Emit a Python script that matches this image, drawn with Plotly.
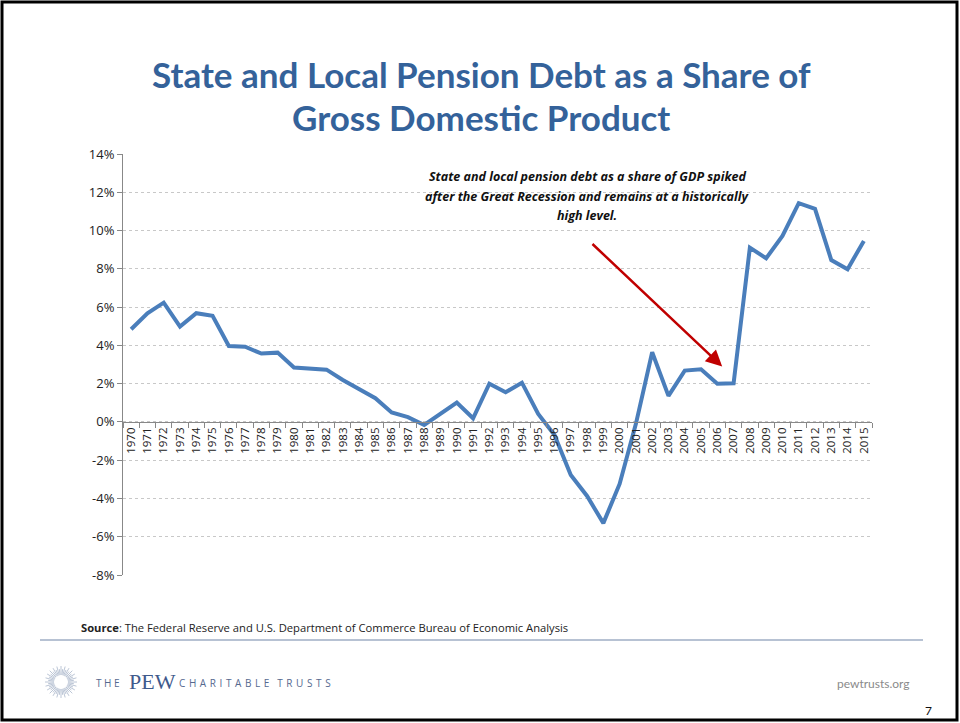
import math
import plotly.graph_objects as go

# ---------------- data ----------------
years = [str(y) for y in range(1970, 2016)]
debt_share = [4.84, 5.68, 6.23, 4.98, 5.68, 5.54, 3.97, 3.93, 3.57, 3.62,
              2.84, 2.77, 2.73, 2.19, 1.71, 1.24, 0.49, 0.25, -0.16, 0.45,
              1.01, 0.19, 2.00, 1.55, 2.05, 0.42, -0.68, -2.77, -3.87, -5.29,
              -3.24, -0.10, 3.64, 1.36, 2.68, 2.75, 2.00, 2.02, 9.11, 8.55,
              9.72, 11.43, 11.13, 8.46, 7.98, 9.46]
y_ticks = [-8, -6, -4, -2, 0, 2, 4, 6, 8, 10, 12, 14]
y_tick_labels = ["-8%", "-6%", "-4%", "-2%", "0%", "2%", "4%", "6%", "8%", "10%", "12%", "14%"]

title_lines = ["State and Local Pension Debt as a Share of", "Gross Domestic Product"]
note_lines = ["State and local pension debt as a share of GDP spiked",
              "after the Great Recession and remains at a historically",
              "high level."]
source_text = "<b>Source</b>: The Federal Reserve and U.S. Department of Commerce Bureau of Economic Analysis"

# ---------------- geometry helpers ----------------
W, H = 960, 723
L, R, T, B = 123, 872, 154, 575


def px(x):
    return (x - L) / (R - L)


def py(y):
    return (B - y) / (B - T)


BLUE_TITLE = "#34629A"
LINE_BLUE = "#4A7EBB"

fig = go.Figure()
fig.add_trace(go.Scatter(
    x=years, y=debt_share, mode="lines",
    line=dict(color=LINE_BLUE, width=4), hoverinfo="x+y", showlegend=False))

zero_pos = (0 - y_ticks[0]) / (y_ticks[-1] - y_ticks[0])

fig.update_layout(
    width=W, height=H,
    margin=dict(l=L, r=W - R, t=T, b=H - B),
    paper_bgcolor="white", plot_bgcolor="white",
    font=dict(family="Open Sans, sans-serif", color="#333333"),
    xaxis=dict(type="category", anchor="free", position=zero_pos,
               showline=True, linecolor="#888888", linewidth=1,
               ticks="outside", tickson="boundaries", ticklen=5, tickcolor="#888888",
               tickangle=-90, tickfont=dict(size=11.5, color="#222222"),
               showgrid=False, zeroline=False, range=[-0.5, len(years) - 0.5]),
    yaxis=dict(range=[y_ticks[0], y_ticks[-1]], tickvals=y_ticks, ticktext=y_tick_labels,
               showline=True, linecolor="#888888", linewidth=1,
               ticks="outside", ticklen=5, tickcolor="#888888",
               tickfont=dict(size=13, color="#222222"),
               showgrid=True, gridcolor="#C8C8C8", griddash="dot", gridwidth=1,
               zeroline=False),
)

annotations = []
# title
for line, yy in zip(title_lines, [74, 117]):
    annotations.append(dict(text="<b>%s</b>" % line, xref="paper", yref="paper",
                            x=px(481), y=py(yy), showarrow=False,
                            xanchor="center", yanchor="middle",
                            font=dict(size=35, color=BLUE_TITLE, family="Lato, sans-serif")))
# note
for line, yy in zip(note_lines, [177, 196, 215]):
    annotations.append(dict(text="<b><i>%s</i></b>" % line, xref="paper", yref="paper",
                            x=px(587), y=py(yy), showarrow=False,
                            xanchor="center", yanchor="middle",
                            font=dict(size=12.5, color="#111111", family="Open Sans, sans-serif")))
# arrow
annotations.append(dict(x=36.3, y=2.89, ax=28.24, ay=9.37, xref="x", yref="y",
                        axref="x", ayref="y", text="", showarrow=True,
                        arrowhead=2, arrowsize=1.3, arrowwidth=2.5, arrowcolor="#C00000"))
# source
annotations.append(dict(text=source_text, xref="paper", yref="paper",
                        x=px(79), y=py(627), showarrow=False, xanchor="left", yanchor="middle",
                        font=dict(size=11.2, color="#222222", family="Open Sans, sans-serif")))
# footer logo text
annotations.append(dict(text=" ".join("THE"), xref="paper", yref="paper",
                        x=px(94), y=py(683), showarrow=False, xanchor="left", yanchor="middle",
                        font=dict(size=10, color="#56698F", family="Open Sans, sans-serif")))
annotations.append(dict(text="PEW", xref="paper", yref="paper",
                        x=px(127), y=py(681), showarrow=False, xanchor="left", yanchor="middle",
                        font=dict(size=22, color="#3F5A8C", family="Liberation Serif, serif")))
annotations.append(dict(text=" \u200a".join("CHARITABLE") + "   " + " \u200a".join("TRUSTS"),
                        xref="paper", yref="paper",
                        x=px(177), y=py(683), showarrow=False, xanchor="left", yanchor="middle",
                        font=dict(size=10, color="#56698F", family="Open Sans, sans-serif")))
annotations.append(dict(text="pewtrusts.org", xref="paper", yref="paper",
                        x=px(912), y=py(683), showarrow=False, xanchor="right", yanchor="middle",
                        font=dict(size=12, color="#8A8A8A", family="Lato, sans-serif")))
annotations.append(dict(text="7", xref="paper", yref="paper",
                        x=px(928), y=py(710), showarrow=False, xanchor="center", yanchor="middle",
                        font=dict(size=12, color="#111111", family="Lato, sans-serif")))
fig.update_layout(annotations=annotations)

shapes = []
# page border
shapes.append(dict(type="rect", xref="paper", yref="paper",
                   x0=px(2), x1=px(957), y0=py(720), y1=py(2),
                   line=dict(color="black", width=3), fillcolor="rgba(0,0,0,0)", layer="below"))
# footer separator
shapes.append(dict(type="line", xref="paper", yref="paper",
                   x0=px(40), x1=px(923), y0=py(640), y1=py(640),
                   line=dict(color="#B7C2D3", width=2)))
# sun logo
cx, cy = 61, 682
for k in range(48):
    a = 2 * math.pi * k / 48
    r0, r1 = 7.0, 13 + (3 if k % 2 == 0 else 0)
    shapes.append(dict(type="line", xref="paper", yref="paper",
                       x0=px(cx + r0 * math.cos(a)), y0=py(cy + r0 * math.sin(a)),
                       x1=px(cx + r1 * math.cos(a)), y1=py(cy + r1 * math.sin(a)),
                       line=dict(color="#BCC6D6", width=1)))
fig.update_layout(shapes=shapes)

fig.write_html("out.html")
